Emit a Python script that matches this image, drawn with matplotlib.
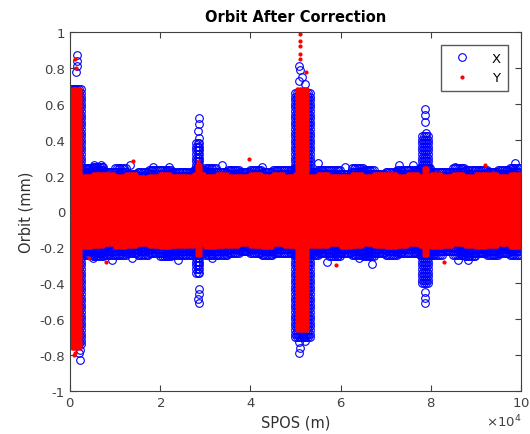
import numpy as np
import matplotlib.pyplot as plt
from matplotlib.ticker import ScalarFormatter, FuncFormatter

# Envolvente de la banda de fondo, tramos de 2500 m
seg_edges = list(range(0, 100001, 2500))
x_top = [0.23, 0.24, 0.25, 0.23, 0.24, 0.22, 0.23, 0.24, 0.24, 0.23,
         0.22, 0.23, 0.24, 0.23, 0.23, 0.22, 0.23, 0.22, 0.23, 0.24,
         0.24, 0.23, 0.24, 0.23, 0.22, 0.24, 0.23, 0.22, 0.23, 0.24,
         0.23, 0.24, 0.22, 0.23, 0.24, 0.23, 0.24, 0.23, 0.24, 0.25]
x_bot = [-0.23, -0.24, -0.25, -0.24, -0.24, -0.23, -0.24, -0.23, -0.25, -0.24,
         -0.24, -0.23, -0.24, -0.24, -0.23, -0.22, -0.23, -0.24, -0.23, -0.23,
         -0.24, -0.24, -0.23, -0.25, -0.23, -0.24, -0.25, -0.23, -0.24, -0.23,
         -0.23, -0.24, -0.24, -0.22, -0.24, -0.25, -0.23, -0.24, -0.23, -0.24]
y_top = [0.21, 0.20, 0.21, 0.21, 0.20, 0.21, 0.19, 0.20, 0.21, 0.20,
         0.20, 0.21, 0.20, 0.21, 0.20, 0.20, 0.21, 0.20, 0.21, 0.20,
         0.21, 0.20, 0.21, 0.20, 0.20, 0.21, 0.20, 0.21, 0.21, 0.20,
         0.21, 0.20, 0.21, 0.20, 0.21, 0.20, 0.21, 0.21, 0.20, 0.21]
y_bot = [-0.19, -0.20, -0.19, -0.18, -0.20, -0.19, -0.18, -0.19, -0.20, -0.19,
         -0.19, -0.18, -0.20, -0.19, -0.19, -0.18, -0.19, -0.20, -0.18, -0.19,
         -0.20, -0.19, -0.19, -0.18, -0.20, -0.19, -0.18, -0.19, -0.20, -0.19,
         -0.18, -0.19, -0.20, -0.19, -0.18, -0.19, -0.20, -0.19, -0.18, -0.20]

# Picos: inicio, fin, maximo, minimo
spk_x_start = [0, 27900, 50000, 78100]
spk_x_end = [2800, 29100, 53300, 79700]
spk_x_top = [0.68, 0.38, 0.66, 0.42]
spk_x_bot = [-0.74, -0.34, -0.70, -0.40]
spk_y_start = [400, 28100, 50400, 78400]
spk_y_end = [2400, 28900, 52800, 79300]
spk_y_top = [0.68, 0.26, 0.68, 0.24]
spk_y_bot = [-0.76, -0.24, -0.66, -0.24]

# Puntos sueltos visibles
out_x_s = [1500, 1500, 1600, 1400, 2200, 2000, 2300, 28500, 28500, 28400, 28600,
           28500, 28600, 28400, 28500, 50800, 51000, 50700, 51500, 52100, 50700,
           51000, 50800, 52200, 78800, 78800, 78700, 78900, 78800, 78700, 78800,
           5300, 6900, 13300, 18400, 22000, 33700, 42600, 55000, 61000, 73000,
           76000, 85400, 98700, 5100, 9300, 13700, 24000, 31500, 57000, 64000,
           67000, 86000, 88200]
out_x_v = [0.87, 0.84, 0.81, 0.78, -0.83, -0.79, -0.77, 0.52, 0.49, 0.45, 0.41,
           -0.43, -0.46, -0.49, -0.51, 0.81, 0.79, 0.73, 0.75, 0.71, -0.79,
           -0.76, -0.73, -0.72, 0.57, 0.54, 0.50, 0.44, -0.48, -0.45, -0.51,
           0.26, 0.26, 0.26, 0.25, 0.25, 0.26, 0.25, 0.27, 0.25, 0.26,
           0.26, 0.25, 0.27, -0.26, -0.27, -0.26, -0.27, -0.26, -0.28, -0.26,
           -0.29, -0.27, -0.27]
out_y_s = [1100, 1400, 800, 1200, 50900, 50900, 50900, 50900, 50900, 52300,
           14000, 39700, 4200, 8000, 59000, 83000, 92000, 28300]
out_y_v = [0.85, 0.80, -0.80, -0.79, 0.99, 0.95, 0.92, 0.88, 0.85, 0.78,
           0.28, 0.29, -0.26, -0.28, -0.30, -0.28, 0.26, 0.28]


def fill_cloud(starts, ends, tops, bots, dx, dy):
    # rellena cada tramo con una malla de puntos entre su minimo y maximo
    xs, ys = [], []
    for a, b, hi, lo in zip(starts, ends, tops, bots):
        gx, gy = np.meshgrid(np.arange(a, b, dx), np.arange(lo, hi + 1e-9, dy))
        xs.append(gx.ravel())
        ys.append(gy.ravel())
    return np.concatenate(xs), np.concatenate(ys)


bx1, by1 = fill_cloud(seg_edges[:-1], seg_edges[1:], x_top, x_bot, 400, 0.02)
bx2, by2 = fill_cloud(spk_x_start, spk_x_end, spk_x_top, spk_x_bot, 400, 0.02)
rx1, ry1 = fill_cloud(seg_edges[:-1], seg_edges[1:], y_top, y_bot, 250, 0.01)
rx2, ry2 = fill_cloud(spk_y_start, spk_y_end, spk_y_top, spk_y_bot, 250, 0.01)

sx = np.concatenate([bx1, bx2, out_x_s])
sxv = np.concatenate([by1, by2, out_x_v])
sy = np.concatenate([rx1, rx2, out_y_s])
syv = np.concatenate([ry1, ry2, out_y_v])

fig = plt.figure(figsize=(5.3, 4.35), dpi=100)
ax = fig.add_axes([0.132, 0.099, 0.851, 0.825])

ax.plot(sx, sxv, 'o', mfc='none', mec='blue', ms=5.5, mew=0.8, label='X')
ax.plot(sy, syv, '.', color='red', ms=4, label='Y')

ax.set_xlim(0, 100000)
ax.set_ylim(-1, 1)
ax.set_xticks(np.arange(0, 100001, 20000))
ax.set_yticks(np.arange(-1, 1.01, 0.2))
fmt = ScalarFormatter(useMathText=True)
fmt.set_powerlimits((4, 4))
ax.xaxis.set_major_formatter(fmt)
ax.yaxis.set_major_formatter(FuncFormatter(lambda v, p: '%g' % (round(v, 1) + 0.0)))
ax.tick_params(direction='in', top=True, right=True, labelsize=9.5,
               colors='#404040', length=4)
ax.xaxis.get_offset_text().set_fontsize(9.5)
ax.xaxis.get_offset_text().set_color('#404040')
for s in ax.spines.values():
    s.set_color('#404040')

ax.set_xlabel('SPOS (m)', fontsize=10.5, color='#303030')
ax.set_ylabel('Orbit (mm)', fontsize=10.5, color='#303030')
ax.set_title('Orbit After Correction', fontsize=10.5, fontweight='bold', pad=8)

leg = ax.legend(loc='upper right', fancybox=False, edgecolor='#303030',
                fontsize=9.5, handlelength=2.2, handletextpad=1.2,
                borderaxespad=1.0, borderpad=0.5)
leg.get_frame().set_linewidth(1.0)

fig.savefig('out.png', dpi=100)
